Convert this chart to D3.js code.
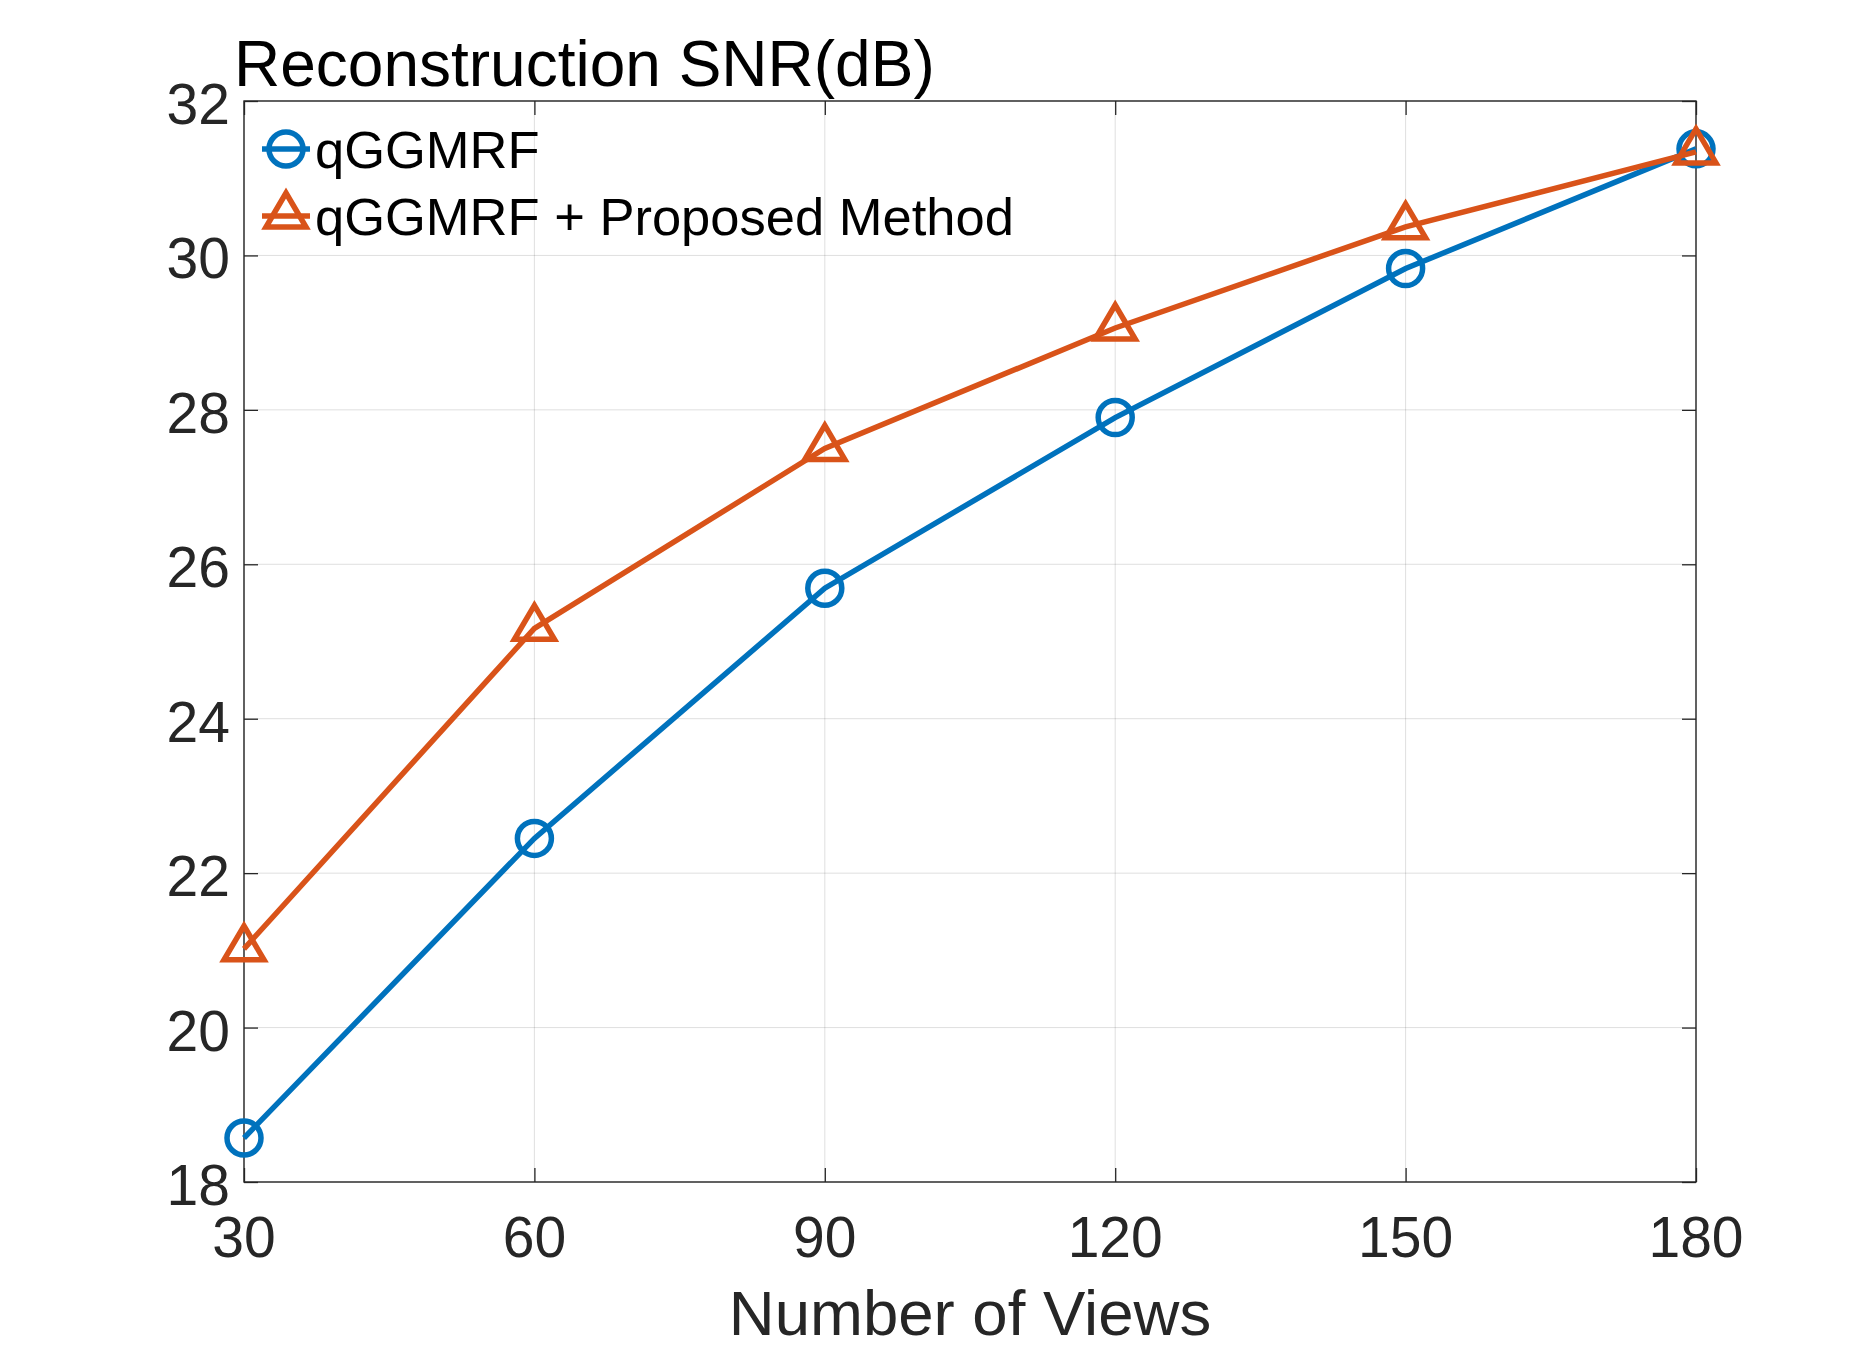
<!DOCTYPE html>
<html>
<head>
<meta charset="utf-8">
<script src="https://d3js.org/d3.v7.min.js"></script>
<style>
  body { margin: 0; background: #fff; }
  text { font-family: "Liberation Sans", Arial, Helvetica, sans-serif; }
  .tick-label { fill: #262626; font-size: 57px; }
  .axis-label { fill: #262626; font-size: 63.5px; }
  .chart-title { fill: #000; font-size: 64px; }
  .legend-text { fill: #000; font-size: 52.5px; }
</style>
</head>
<body>
<div id="chart"></div>
<script>
// data
const views = [30, 60, 90, 120, 150, 180];
const snrQggmrf = [18.57, 22.45, 25.69, 27.90, 29.83, 31.38];
const snrProposed = [21.02, 25.17, 27.50, 29.06, 30.37, 31.34];
const xTicks = [30, 60, 90, 120, 150, 180];
const yTicks = [18, 20, 22, 24, 26, 28, 30, 32];
const seriesNames = ["qGGMRF", "qGGMRF + Proposed Method"];
const seriesColors = ["#0072BD", "#D95319"];

(function () {

  // chart settings
  const svg_width = 1875;
  const svg_height = 1351;
  const margin = { top: 101, right: 179, bottom: 169, left: 244 },
    width = svg_width - margin.left - margin.right,
    height = svg_height - margin.top - margin.bottom;
  const tickLen = 14;
  const lw = 5.5;

  const x = d3.scaleLinear().domain([30, 180]).range([0, width]);
  const y = d3.scaleLinear().domain([18, 32]).range([height, 0]);

  let svg = d3.select("#chart").append("svg")
    .attr("width", svg_width)
    .attr("height", svg_height)
    .append("g")
    .attr("transform", "translate(" + margin.left + "," + margin.top + ")");

  // grid lines
  svg.append("g").selectAll("line")
    .data(xTicks)
    .enter().append("line")
    .attr("x1", d => x(d)).attr("x2", d => x(d))
    .attr("y1", 0).attr("y2", height)
    .attr("stroke", "#262626").attr("stroke-opacity", 0.15).attr("stroke-width", 1);
  svg.append("g").selectAll("line")
    .data(yTicks)
    .enter().append("line")
    .attr("x1", 0).attr("x2", width)
    .attr("y1", d => y(d)).attr("y2", d => y(d))
    .attr("stroke", "#262626").attr("stroke-opacity", 0.15).attr("stroke-width", 1);

  // axes: inward ticks on all four sides (box on)
  const axisStyle = g => {
    g.select(".domain").remove();
    g.selectAll(".tick line").attr("stroke", "#262626").attr("stroke-width", 1.3);
  };
  svg.append("g")
    .attr("transform", "translate(0," + height + ")")
    .call(d3.axisBottom(x).tickValues(xTicks).tickSize(-tickLen).tickFormat(""))
    .call(axisStyle);
  svg.append("g")
    .call(d3.axisTop(x).tickValues(xTicks).tickSize(-tickLen).tickFormat(""))
    .call(axisStyle);
  svg.append("g")
    .call(d3.axisLeft(y).tickValues(yTicks).tickSize(-tickLen).tickFormat(""))
    .call(axisStyle);
  svg.append("g")
    .attr("transform", "translate(" + width + ",0)")
    .call(d3.axisRight(y).tickValues(yTicks).tickSize(-tickLen).tickFormat(""))
    .call(axisStyle);

  // box
  svg.append("rect")
    .attr("width", width).attr("height", height)
    .attr("fill", "none").attr("stroke", "#262626").attr("stroke-width", 1.4);

  // tick labels
  svg.append("g").selectAll("text")
    .data(xTicks)
    .enter().append("text")
    .attr("class", "tick-label")
    .attr("x", d => x(d))
    .attr("y", height + 75)
    .attr("text-anchor", "middle")
    .text(d => d);
  svg.append("g").selectAll("text")
    .data(yTicks)
    .enter().append("text")
    .attr("class", "tick-label")
    .attr("x", -14)
    .attr("y", d => y(d) + 23)
    .attr("text-anchor", "end")
    .text(d => d);

  // labels
  svg.append("text")
    .attr("class", "axis-label")
    .attr("x", width / 2)
    .attr("y", height + 153)
    .attr("text-anchor", "middle")
    .text("Number of Views");
  svg.append("text")
    .attr("class", "chart-title")
    .attr("x", -10)
    .attr("y", -15)
    .text("Reconstruction SNR(dB)");

  // markers
  const tri = "M0,-23L20,11L-20,11Z";
  const drawMarker = (sel, kind, color) => {
    if (kind === 0) {
      sel.append("circle").attr("r", 17)
        .attr("fill", "none").attr("stroke", color).attr("stroke-width", lw);
    } else {
      sel.append("path").attr("d", tri)
        .attr("fill", "none").attr("stroke", color).attr("stroke-width", lw)
        .attr("stroke-linejoin", "miter");
    }
  };

  const line = d3.line().x(d => x(d[0])).y(d => y(d[1]));
  [snrQggmrf, snrProposed].forEach((vals, i) => {
    const pts = views.map((v, j) => [v, vals[j]]);
    svg.append("path")
      .datum(pts)
      .attr("d", line)
      .attr("fill", "none")
      .attr("stroke", seriesColors[i])
      .attr("stroke-width", lw);
    svg.append("g").selectAll("g")
      .data(pts)
      .enter().append("g")
      .attr("transform", d => "translate(" + x(d[0]) + "," + y(d[1]) + ")")
      .each(function () { drawMarker(d3.select(this), i, seriesColors[i]); });
  });

  // legend (no box)
  const legend = svg.append("g");
  seriesNames.forEach((name, i) => {
    const cy = 48 + i * 67;
    const row = legend.append("g").attr("transform", "translate(42," + cy + ")");
    row.append("line")
      .attr("x1", -24).attr("x2", 24)
      .attr("stroke", seriesColors[i]).attr("stroke-width", lw);
    drawMarker(row, i, seriesColors[i]);
    legend.append("text")
      .attr("class", "legend-text")
      .attr("x", 71)
      .attr("y", cy + 19)
      .text(name);
  });

})();
</script>
</body>
</html>
